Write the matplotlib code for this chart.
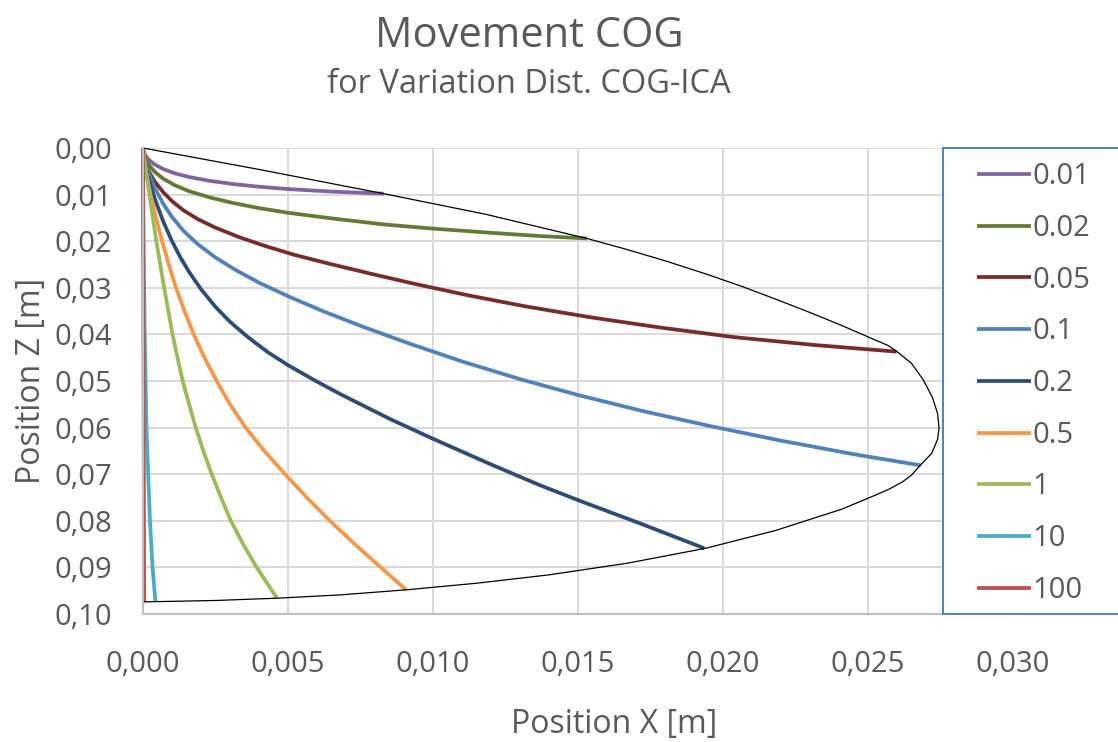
import matplotlib
matplotlib.use("Agg")
import matplotlib.pyplot as plt
from matplotlib.patches import Rectangle
from matplotlib.ticker import FixedLocator

plt.rcParams['font.family'] = ['Open Sans', 'DejaVu Sans']

# series: distance COG-ICA -> (x, z) points
labels = ["0.01", "0.02", "0.05", "0.1", "0.2", "0.5", "1", "10", "100"]
colors = ["#8064A2", "#627A32", "#772C2A", "#4F81BD", "#2C4D75",
          "#F79646", "#9BBB59", "#4BACC6", "#C0504D"]

x_001 = [0, 0.00002, 0.00008, 0.0002, 0.0004, 0.0007, 0.0011, 0.0016, 0.0023, 0.0031, 0.0040, 0.0050, 0.0065, 0.0083]
z_001 = [0, 0.00076, 0.00157, 0.00253, 0.00353, 0.00452, 0.00544, 0.00624, 0.00705, 0.00773, 0.00831, 0.00881, 0.00935, 0.0098]

x_002 = [0, 0.00002, 0.00008, 0.0002, 0.0004, 0.0007, 0.0011, 0.0016, 0.0023, 0.0031, 0.0040, 0.0050,
         0.0065, 0.0083, 0.0100, 0.0120, 0.0137, 0.0153]
z_002 = [0, 0.0010, 0.0022, 0.0036, 0.0051, 0.0066, 0.0080, 0.0093, 0.0106, 0.0118, 0.0129, 0.0139,
         0.0151, 0.0164, 0.0173, 0.0182, 0.0189, 0.0194]

x_005 = [0, 0.00002, 0.00008, 0.0002, 0.0004, 0.0007, 0.0010, 0.0014, 0.0019, 0.0025, 0.0033, 0.0042,
         0.0052, 0.0064, 0.0078, 0.0094, 0.0112, 0.0132, 0.0154, 0.0178, 0.0204, 0.0232, 0.02598]
z_005 = [0, 0.0013, 0.0030, 0.0050, 0.0072, 0.0095, 0.0114, 0.0134, 0.0153, 0.0171, 0.0191, 0.0210,
         0.0229, 0.0248, 0.0269, 0.0292, 0.0316, 0.0340, 0.0363, 0.0385, 0.0406, 0.0423, 0.0437]

x_01 = [0, 0.00002, 0.00008, 0.0002, 0.0004, 0.0007, 0.0010, 0.0014, 0.0019, 0.0025, 0.0032, 0.0040,
        0.0050, 0.0062, 0.0076, 0.0092, 0.0110, 0.0130, 0.0150, 0.0172, 0.0195, 0.0220, 0.0245, 0.02682]
z_01 = [0, 0.0012, 0.0029, 0.0054, 0.0085, 0.0120, 0.0148, 0.0178, 0.0207, 0.0235, 0.0262, 0.0289,
        0.0318, 0.0350, 0.0384, 0.0420, 0.0458, 0.0496, 0.0530, 0.0564, 0.0596, 0.0628, 0.0657, 0.0681]

x_02 = [0, 0.00002, 0.00008, 0.0002, 0.0004, 0.0007, 0.0010, 0.0013, 0.0016, 0.0020, 0.0025, 0.0030,
        0.0036, 0.0043, 0.0050, 0.0059, 0.0068, 0.0085, 0.0100, 0.0120, 0.0137, 0.0151, 0.0172, 0.01936]
z_02 = [0, 0.0016, 0.0038, 0.0068, 0.0108, 0.0158, 0.0200, 0.0236, 0.0267, 0.0303, 0.0341, 0.0373,
        0.0405, 0.0438, 0.0466, 0.0498, 0.0528, 0.0581, 0.0624, 0.0679, 0.0724, 0.0758, 0.0807, 0.0859]

x_05 = [0, 0.00003, 0.0001, 0.00026, 0.00045, 0.00066, 0.00089, 0.00114, 0.00143, 0.00175, 0.00212,
        0.00254, 0.0030, 0.00354, 0.00418, 0.0049, 0.00565, 0.00645, 0.0073, 0.0082, 0.00907]
z_05 = [0, 0.0020, 0.0050, 0.0100, 0.0150, 0.0200, 0.0250, 0.0300, 0.0350, 0.0400, 0.0450,
        0.0500, 0.0550, 0.0600, 0.0650, 0.0700, 0.0750, 0.0800, 0.0850, 0.0900, 0.0948]

x_1 = [0, 0.00006, 0.00022, 0.00046, 0.00073, 0.00102, 0.00119, 0.00137, 0.00159, 0.00182, 0.00208,
       0.00237, 0.00269, 0.00303, 0.00345, 0.00392, 0.00462]
z_1 = [0, 0.0030, 0.0100, 0.0200, 0.0300, 0.0400, 0.0450, 0.0500, 0.0550, 0.0600, 0.0650,
       0.0700, 0.0750, 0.0800, 0.0850, 0.0900, 0.0966]

x_10 = [0, 0.00002, 0.00006, 0.00012, 0.00024, 0.00033, 0.00043]
z_10 = [0, 0.0200, 0.0400, 0.0600, 0.0800, 0.0900, 0.0974]

x_100 = [0, 0.00002, 0.00004]
z_100 = [0, 0.0500, 0.0974]

# locus of the end points
x_env = [0, 0.0040, 0.0083, 0.0118, 0.0153, 0.0167, 0.0180, 0.0194, 0.02065, 0.0218, 0.0230, 0.0241,
         0.0251, 0.0257, 0.0260, 0.0265, 0.0269, 0.02722, 0.0274, 0.02745, 0.0274, 0.0272, 0.0268,
         0.0265, 0.0262, 0.0257, 0.0251, 0.0241, 0.0218, 0.0194, 0.0167, 0.0140, 0.0115, 0.0091,
         0.0068, 0.00465, 0.0025, 0]
z_env = [0, 0.0046, 0.0098, 0.0142, 0.0194, 0.0218, 0.0242, 0.0270, 0.0297, 0.0324, 0.0353, 0.0381,
         0.0408, 0.0424, 0.0437, 0.0462, 0.0497, 0.0535, 0.0570, 0.0600, 0.0625, 0.0655, 0.0681,
         0.0702, 0.0716, 0.0733, 0.0749, 0.0775, 0.0821, 0.0859, 0.0891, 0.0916, 0.0934, 0.0948,
         0.0959, 0.0966, 0.0971, 0.0974]

xs = [x_001, x_002, x_005, x_01, x_02, x_05, x_1, x_10, x_100]
zs = [z_001, z_002, z_005, z_01, z_02, z_05, z_1, z_10, z_100]

x_ticks = [0.000, 0.005, 0.010, 0.015, 0.020, 0.025, 0.030]
z_ticks = [0.00, 0.01, 0.02, 0.03, 0.04, 0.05, 0.06, 0.07, 0.08, 0.09, 0.10]

W, H = 1118, 742
txt = "#595959"

fig = plt.figure(figsize=(W / 100, H / 100), dpi=100)
ax = fig.add_axes([143 / W, 1 - 614 / H, 870 / W, 466 / H])

handles = []
for x, z, c in zip(xs, zs, colors):
    h, = ax.plot(x, z, color=c, lw=2.7, solid_capstyle='butt', solid_joinstyle='round', clip_on=False)
    handles.append(h)
ax.plot(x_env, z_env, color="black", lw=0.9, solid_joinstyle='round')

ax.set_xlim(0, 0.030)
ax.set_ylim(0.10, 0)
ax.xaxis.set_major_locator(FixedLocator(x_ticks))
ax.yaxis.set_major_locator(FixedLocator(z_ticks))
ax.set_xticklabels([f"{v:.3f}".replace(".", ",") for v in x_ticks])
ax.set_yticklabels([f"{v:.2f}".replace(".", ",") for v in z_ticks])
ax.tick_params(axis='both', length=0, labelsize=21, labelcolor=txt)
ax.tick_params(axis='x', pad=26)
ax.tick_params(axis='y', pad=22)
ax.grid(True, color="#D9D9D9", lw=1.4)
ax.set_axisbelow(True)
for s in ["top", "right"]:
    ax.spines[s].set_visible(False)
for s in ["left", "bottom"]:
    ax.spines[s].set_color("#BFBFBF")
    ax.spines[s].set_linewidth(1.5)

fig.text(529 / W, 1 - 47 / H, "Movement COG", ha='center', va='baseline', fontsize=30, color=txt)
fig.text(529 / W, 1 - 93 / H, "for Variation Dist. COG-ICA", ha='center', va='baseline', fontsize=23.5, color=txt)
fig.text(614 / W, 1 - 725 / H, "Position X [m]", ha='center', va='center', fontsize=23, color=txt)
fig.text(32 / W, 1 - 381 / H, "Position Z [m]", ha='center', va='center', rotation=90, fontsize=23, color=txt)

# legend box
fig.add_artist(Rectangle((943 / W, 1 - 614 / H), 200 / W, 466 / H, transform=fig.transFigure,
                         facecolor="white", edgecolor="#4F81BD", lw=1.4, zorder=1))
leg = fig.legend(handles, labels, loc='upper left', bbox_to_anchor=(977 / W, 1 - 162 / H),
                 frameon=False, fontsize=21, handlelength=1.85, handletextpad=0.05,
                 labelspacing=0.78, borderpad=0, borderaxespad=0)
for t in leg.get_texts():
    t.set_color(txt)
leg.set_zorder(5)

fig.savefig("out.png", dpi=100)
